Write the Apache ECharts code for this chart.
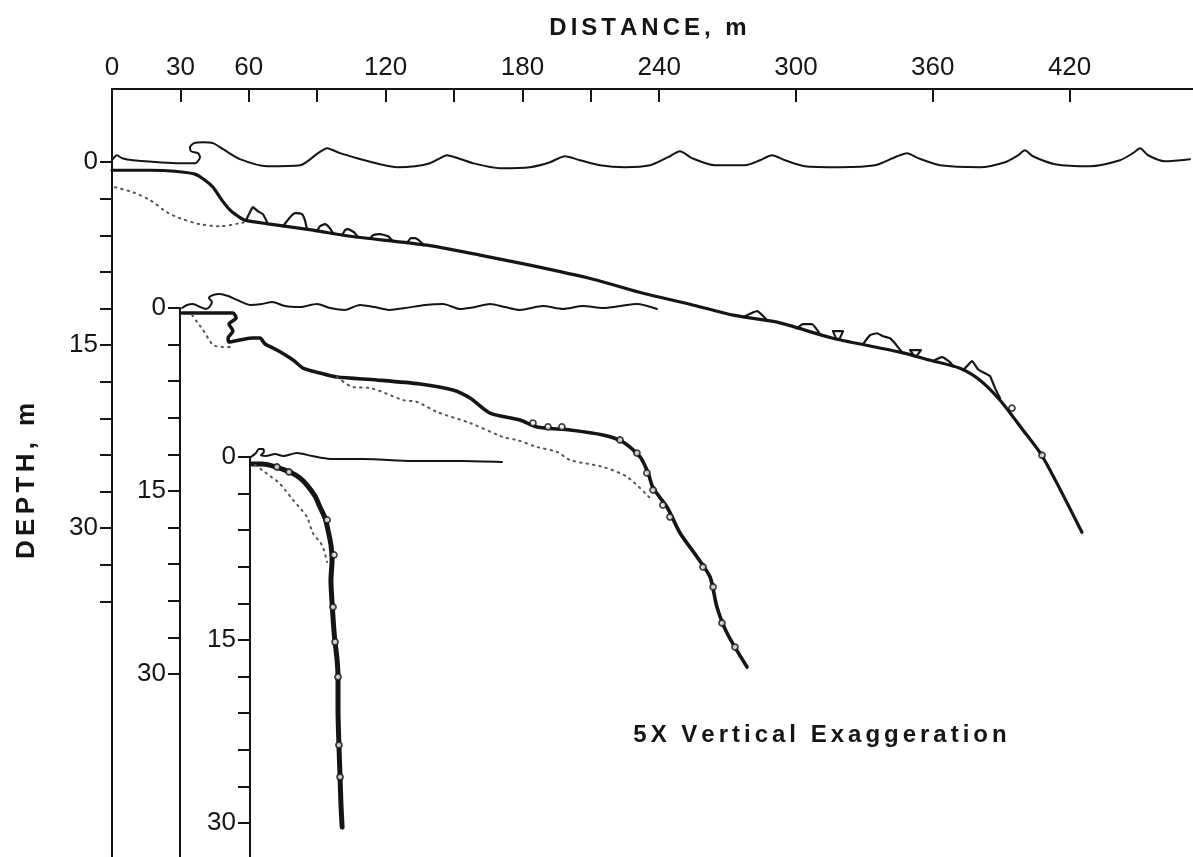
<!DOCTYPE html>
<html>
<head>
<meta charset="utf-8">
<script src="https://cdn.jsdelivr.net/npm/echarts@6/dist/echarts.min.js"></script>
<style>
  html, body { margin: 0; padding: 0; background: #fff; }
  #chart { width: 1193px; height: 857px; }
</style>
</head>
<body>
<div id="chart"></div>
<script>
// Three nearshore profiles, distance (m) offshore vs depth (m) below still water.
// Negative depth = water surface above still-water level.

const distanceTicks  = [30, 60, 90, 120, 150, 180, 210, 240, 300, 360, 420];
const distanceLabels = [0, 30, 60, 120, 180, 240, 300, 360, 420];
const depthTicksMain = [0, 3, 6, 9, 12, 15, 18, 21, 24, 27, 30, 33, 36];
const depthTicksInset = [0, 3, 6, 9, 12, 15, 18, 21, 24, 27, 30];
const depthLabels    = [0, 15, 30];

// ---- Profile A (wide shelf) ----
const surfaceA = [[0,-0.16],[2.2,-0.57],[4.4,-0.33],[9.2,-0.16],[29.8,0.08],[36.4,0.08],[38.6,-0.41],[37.7,-0.74],[34.6,-0.9],[34.2,-1.23],[36.0,-1.56],[39.9,-1.64],[44.3,-1.56],[48.7,-1.07],[56.1,-0.25],[68.0,0.33],[82.5,0.25],[90.4,-0.74],[94.3,-1.15],[100.0,-0.74],[107.5,-0.33],[117.5,0.16],[125.0,0.41],[132.9,0.33],[139.5,0.08],[143.9,-0.33],[146.9,-0.57],[150.4,-0.41],[158.3,0.08],[170.2,0.49],[183.3,0.41],[192.1,0],[198.7,-0.49],[205.3,-0.16],[214.0,0.25],[225.0,0.41],[236.0,0.25],[243.9,-0.41],[249.1,-0.9],[254.4,-0.33],[264.5,0.25],[277.6,0.25],[284.2,-0.16],[289.5,-0.57],[295.2,-0.16],[303.9,0.33],[319.3,0.41],[334.6,0.25],[343.4,-0.41],[348.7,-0.74],[353.5,-0.33],[363.2,0.25],[380.7,0.41],[391.7,0],[397.4,-0.57],[400.4,-0.98],[403.9,-0.49],[413.6,0.16],[428.9,0.33],[442.1,-0.16],[447.8,-0.74],[450.9,-1.15],[454.4,-0.57],[461.8,-0.08],[472.8,-0.25]];
const bottomA = [[0,0.66],[16.7,0.66],[27.6,0.74],[36.4,0.98],[40.8,1.48],[44.3,2.05],[48.2,3.11],[51.8,3.93],[55.3,4.43],[58.3,4.75],[69.3,5.08],[88.2,5.57],[104.4,6.07],[138.2,6.8],[161.4,7.62],[183.3,8.44],[211.0,9.59],[232.9,10.74],[253.5,11.64],[272.4,12.54],[291.7,13.11],[316.2,14.43],[345.6,15.57],[358.8,16.23],[371.9,16.89],[380.7,17.87],[389.5,19.51],[399.6,21.97],[408.3,24.18],[425.4,30.33]];
const priorA = [[1.3,2.05],[9.2,2.46],[16.7,3.11],[24.1,4.1],[29.8,4.59],[38.6,5.08],[47.4,5.25],[56.1,5.0],[59.6,4.84]];
const rocksA = [
  [[58.8,4.75],[60.5,4.10],[61.8,3.69],[64.0,4.02],[66.2,4.26],[68.4,5.08]],
  [[75.0,5.25],[78.1,4.51],[80.3,4.18],[83.3,4.26],[84.6,4.75],[85.5,5.49]],
  [[89.9,5.66],[91.2,5.25],[93.4,5.08],[95.6,5.41],[96.9,5.82]],
  [[100.9,5.98],[102.2,5.57],[103.5,5.49],[106.1,5.74],[107.9,6.15]],
  [[113.2,6.23],[114.5,5.98],[117.5,5.90],[121.1,6.07],[123.2,6.48]],
  [[129.4,6.64],[131.1,6.23],[132.9,6.23],[135.1,6.48],[136.8,6.80]],
  [[276.8,12.70],[282.9,12.21],[287.3,12.95]],
  [[300.4,13.61],[303.1,13.28],[307.0,13.28],[310.5,14.10]],
  [[316.2,13.85],[320.6,13.85],[318.9,14.51],[318.0,14.51],[316.2,13.85]],
  [[329.4,14.92],[332.5,14.18],[335.5,14.02],[338.2,14.26],[341.2,14.43],[343.4,14.84],[344.7,15.16],[346.9,15.66]],
  [[350.0,15.41],[354.8,15.41],[352.6,15.90],[352.2,15.90],[350.0,15.41]],
  [[360.1,16.31],[364.0,15.98],[367.5,16.39],[368.9,16.72]],
  [[373.2,17.05],[375.4,16.64],[377.2,16.31],[379.8,16.97],[382.9,17.30],[385.1,17.54],[387.3,18.52],[389.5,19.34]]
];
const bouldersA = [[394.7,20.16],[407.9,24.02]];

// ---- Profile B (terrace) ----
const surfaceB = [[0.9,0],[3.1,-0.25],[5.7,-0.33],[8.8,-0.08],[11.4,0.08],[13.2,-0.16],[14.0,-0.49],[12.7,-0.82],[14.5,-1.07],[17.5,-1.15],[21.1,-0.98],[25.0,-0.66],[30.7,-0.25],[36.0,-0.33],[40.4,-0.49],[46.1,-0.16],[52.6,-0.08],[60.1,-0.33],[65.8,0],[72.4,0.16],[78.9,-0.25],[85.5,-0.08],[92.1,0.16],[98.7,0],[107.5,-0.25],[115.4,-0.33],[122.8,0.08],[129.4,-0.08],[136.0,-0.33],[142.5,-0.08],[149.1,0.16],[159.2,-0.16],[168.0,0.08],[176.8,-0.16],[185.5,0],[193.0,-0.16],[200.4,-0.33],[209.2,0.08]];
const bottomB = [[0.9,0.41],[11.0,0.41],[23.2,0.41],[24.6,0.82],[21.5,1.31],[23.2,1.89],[21.1,2.46],[21.5,2.79],[26.3,2.62],[32.0,2.46],[35.1,2.46],[37.3,2.95],[42.5,3.44],[49.6,4.26],[53.9,4.92],[61.4,5.33],[68.9,5.66],[86.4,5.9],[105.3,6.23],[119.7,6.72],[127.2,7.38],[136.0,8.61],[149.1,9.18],[156.6,9.75],[171.1,10.0],[185.5,10.41],[194.3,10.98],[201.8,12.21],[205.3,13.52],[207.5,14.75],[213.6,16.31],[219.3,18.44],[226.8,20.41],[232.5,22.05],[235.5,24.51],[239.9,26.64],[248.7,29.43]];
const priorB1 = [[5.3,0.57],[7.5,1.15],[10.1,1.8],[12.3,2.46],[14.5,3.03],[18.4,3.2],[21.9,3.2]];
const priorB2 = [[68.9,5.66],[75.9,6.48],[83.3,6.56],[97.8,7.54],[103.9,7.70],[112.7,8.52],[127.2,9.43],[141.7,10.57],[147.8,10.82],[156.6,11.39],[165.4,11.80],[171.1,12.46],[185.5,13.03],[196.1,13.85],[206.1,15.57]];
const bouldersB = [[154.8,9.43],[161.4,9.75],[167.5,9.75],[193.0,10.82],[200.4,11.89],[204.8,13.52],[207.5,14.92],[211.8,16.15],[214.9,17.13],[229.4,21.23],[233.8,22.87],[237.7,25.82],[243.4,27.79]];

// ---- Profile C (steep) ----
const surfaceC = [[0.4,0],[2.6,-0.33],[3.9,-0.66],[5.7,-0.66],[6.1,-0.41],[4.8,-0.16],[7.0,-0.08],[11.0,-0.25],[14.5,-0.08],[20.6,-0.33],[27.2,-0.08],[35.1,0.16],[49.6,0.16],[71.5,0.33],[93.4,0.33],[110.5,0.41]];
const bottomC = [[0.9,0.57],[5.3,0.57],[10.1,0.74],[17.5,1.23],[21.9,1.72],[25.0,2.3],[28.5,3.2],[30.7,4.1],[32.9,5.0],[34.2,5.98],[35.5,7.21],[36.0,8.44],[35.5,10.08],[36.0,11.97],[36.8,14.18],[37.3,15.16],[38.2,16.64],[38.6,18.03],[38.6,20.74],[39.0,23.61],[39.5,26.23],[39.9,28.52],[40.4,30.33]];
const priorC = [[2.2,0.66],[5.3,1.07],[8.8,1.56],[12.3,2.05],[15.4,2.70],[18.9,3.52],[21.9,4.18],[25.0,4.92],[27.6,6.23],[30.7,6.97],[32.0,7.38],[33.8,8.61]];
const bouldersC = [[11.8,0.82],[17.1,1.23],[33.8,5.16],[36.8,8.03],[36.4,12.30],[37.3,15.16],[38.6,18.03],[39.0,23.61],[39.5,26.23]];

// ---- layout: same scale on every panel ----
const PX_PER_M_X = 2.28;
const PX_PER_M_Y = 12.2;
const W = 1193, H = 857;
const panels = [
  { left: 112, top: 89,  yMin: -6 },
  { left: 180, top: 308, yMin: 0 },
  { left: 250, top: 457, yMin: 0 }
];

const INK = '#151515';
const FONT = 'Liberation Sans';

const grids = panels.map(p => ({
  left: p.left, top: p.top, width: W - p.left, height: H - p.top,
  containLabel: false, outerBoundsMode: 'none'
}));

const xAxes = panels.map((p, i) => ({
  type: 'value', gridIndex: i, position: 'top',
  min: 0, max: (W - p.left) / PX_PER_M_X,
  show: i === 0,
  axisLine: { show: true, onZero: false, lineStyle: { color: INK, width: 2 } },
  axisTick: { show: true, inside: true, length: 13, customValues: distanceTicks, lineStyle: { color: INK, width: 2 } },
  axisLabel: { show: true, customValues: distanceLabels, margin: 8, color: INK, fontFamily: FONT, fontSize: 26 },
  splitLine: { show: false }
}));

const yAxes = panels.map((p, i) => ({
  type: 'value', gridIndex: i, inverse: true, position: 'left',
  min: p.yMin, max: p.yMin + (H - p.top) / PX_PER_M_Y,
  axisLine: { show: true, onZero: false, lineStyle: { color: INK, width: 2 } },
  axisTick: { show: true, inside: false, length: 12, customValues: i === 0 ? depthTicksMain : depthTicksInset, lineStyle: { color: INK, width: 2 } },
  axisLabel: { show: true, customValues: depthLabels, margin: 14, color: INK, fontFamily: FONT, fontSize: 26 },
  splitLine: { show: false }
}));

function line(data, idx, width, extra) {
  return Object.assign({
    type: 'line', data: data, xAxisIndex: idx, yAxisIndex: idx,
    symbol: 'none', smooth: 0.25, clip: false, silent: true, animation: false,
    lineStyle: { color: INK, width: width, cap: 'round', join: 'round' }
  }, extra || {});
}
function dotted(data, idx) {
  return line(data, idx, 2, { smooth: 0.3, lineStyle: { color: '#555', width: 2, type: [1.5, 5], cap: 'round' } });
}
function boulders(data, idx, size) {
  return {
    type: 'scatter', data: data, xAxisIndex: idx, yAxisIndex: idx,
    symbol: 'circle', symbolSize: size, silent: true, animation: false, z: 5,
    itemStyle: { color: '#fff', borderColor: INK, borderWidth: 1.8 }
  };
}

const series = [
  line(surfaceA, 0, 2),
  line(bottomA, 0, 3.2),
  dotted(priorA, 0),
  ...rocksA.map(r => line(r, 0, 2.2, { smooth: 0.15 })),
  boulders(bouldersA, 0, 6),
  line(surfaceB, 1, 2),
  line(bottomB, 1, 3.6),
  dotted(priorB1, 1),
  dotted(priorB2, 1),
  boulders(bouldersB, 1, 6),
  line(surfaceC, 2, 2),
  line(bottomC, 2, 5),
  dotted(priorC, 2),
  boulders(bouldersC, 2, 6)
];

const sp = '\u2006';
const spaced = s => s.split('').join(sp);

const chart = echarts.init(document.getElementById('chart'), null, { renderer: 'canvas' });
chart.setOption({
  backgroundColor: '#fff',
  animation: false,
  grid: grids,
  xAxis: xAxes,
  yAxis: yAxes,
  series: series,
  graphic: [
    { type: 'text', x: 648, y: 28, style: { text: spaced('DISTANCE, m'), fill: INK, font: 'bold 24px "Liberation Sans"', align: 'center', verticalAlign: 'middle' } },
    { type: 'text', x: 27, y: 481, rotation: Math.PI / 2, style: { text: spaced('DEPTH, m'), fill: INK, font: 'bold 26px "Liberation Sans"', align: 'center', verticalAlign: 'middle' } },
    { type: 'text', x: 820, y: 735, style: { text: spaced('5X Vertical Exaggeration'), fill: INK, font: 'bold 24px "Liberation Sans"', align: 'center', verticalAlign: 'middle' } }
  ]
});
</script>
</body>
</html>
